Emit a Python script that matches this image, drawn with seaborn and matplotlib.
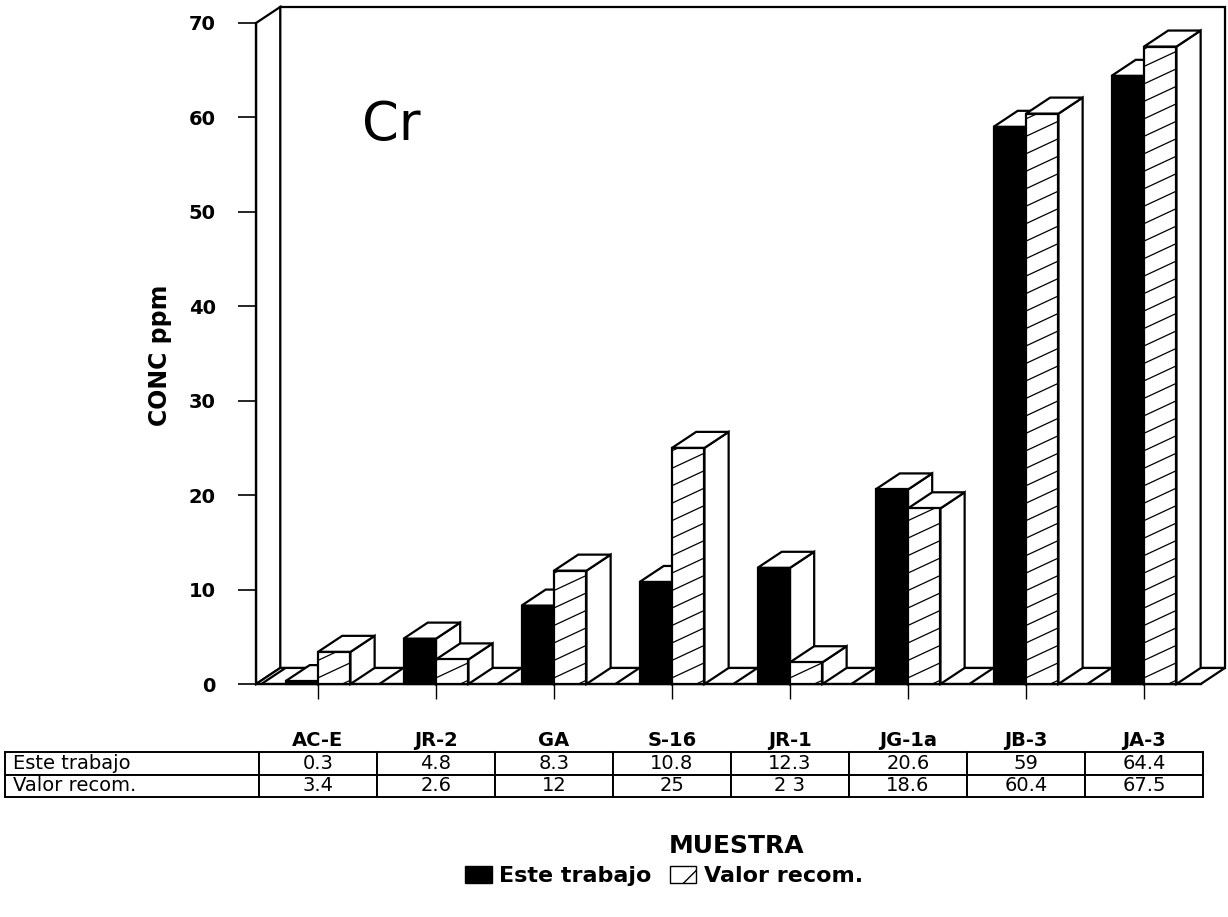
import numpy as np
import pandas as pd
import matplotlib
matplotlib.use("Agg")
import matplotlib.pyplot as plt
import seaborn as sns
from matplotlib.patches import Polygon, Patch, Rectangle
from matplotlib.collections import LineCollection

# Cr concentrations (ppm) per reference sample
muestras = ["AC-E", "JR-2", "GA", "S-16", "JR-1", "JG-1a", "JB-3", "JA-3"]
este_trabajo = [0.3, 4.8, 8.3, 10.8, 12.3, 20.6, 59, 64.4]
valor_recom = [3.4, 2.6, 12, 25, 2.3, 18.6, 60.4, 67.5]
este_txt = ["0.3", "4.8", "8.3", "10.8", "12.3", "20.6", "59", "64.4"]
valor_txt = ["3.4", "2.6", "12", "25", "2 3", "18.6", "60.4", "67.5"]
series = ["Este trabajo", "Valor recom."]
y_ticks = [0, 10, 20, 30, 40, 50, 60, 70]

df = pd.DataFrame({
    "muestra": muestras * 2,
    "serie": [series[0]] * len(muestras) + [series[1]] * len(muestras),
    "conc": este_trabajo + valor_recom,
})

sns.set_style("white")
plt.rcParams["font.family"] = ["DejaVu Sans"]
plt.rcParams.update({"text.color": "black", "axes.labelcolor": "black",
                     "xtick.color": "black", "ytick.color": "black"})

W, H = 1228, 917
fig = plt.figure(figsize=(W / 100, H / 100), dpi=100)
ax = fig.add_axes([0, 0, 1, 1])

sns.barplot(data=df, x="muestra", y="conc", hue="serie", order=muestras,
            hue_order=series, palette={series[0]: "black", series[1]: "white"},
            width=0.55, saturation=1, edgecolor="black", linewidth=1.5,
            errorbar=None, legend=False, ax=ax)

bars = sorted([p for p in ax.patches if isinstance(p, Rectangle)],
              key=lambda p: p.get_x())

# one category = 118 px, one ppm = 9.443 px; floor front edge at y = 684 px
ax.set_xlim(-318 / 118, (W - 318) / 118)
ax.set_ylim((684 - H) / 9.443, 684 / 9.443)

# oblique depth of the pseudo-3D box
DX, DY = 0.205, 1.7
x_front = -0.525
x_right = 7.686
top = max(y_ticks)
LW = 1.6

# left wall, back wall, floor
left_wall = Polygon([(x_front, 0), (x_front, top), (x_front + DX, top + DY),
                     (x_front + DX, DY)], closed=True, fc="white", ec="black",
                    lw=LW, zorder=0.5)
back_wall = Polygon([(x_front + DX, DY), (x_front + DX, top + DY),
                     (x_right, top + DY), (x_right, DY)], closed=True,
                    fc="white", ec="black", lw=LW, zorder=0.4)
floor = Polygon([(x_front, 0), (x_right - DX, 0), (x_right, DY),
                 (x_front + DX, DY)], closed=True, fc="white", ec="black",
                lw=LW, zorder=0.6)
for p in (left_wall, back_wall, floor):
    ax.add_patch(p)

for k, b in enumerate(bars):
    x0, w, h = b.get_x(), b.get_width(), b.get_height()
    z = 2 + k
    is_valor = b.get_facecolor()[0] > 0.5
    b.set_linewidth(LW)
    if not is_valor:
        # floor division line in front of each sample group
        ax.plot([x0 - DX, x0], [0, DY], color="black", lw=LW, zorder=1.5,
                solid_capstyle="butt")
    side = Polygon([(x0 + w, 0), (x0 + w + DX, DY), (x0 + w + DX, h + DY),
                    (x0 + w, h)], closed=True, fc="white", ec="black", lw=LW,
                   zorder=z + 0.2, joinstyle="miter")
    cap = Polygon([(x0, h), (x0 + DX, h + DY), (x0 + w + DX, h + DY),
                   (x0 + w, h)], closed=True, fc="white", ec="black", lw=LW,
                  zorder=z + 0.3, joinstyle="miter")
    ax.add_patch(side)
    ax.add_patch(cap)
    b.set_zorder(z + 0.5)
    if is_valor:
        rise, step = 1.6, 1.85
        segs = [[(x0, y0), (x0 + w, y0 + rise)]
                for y0 in np.arange(0.4 - rise, h, step)]
        lc = LineCollection(segs, colors="black", linewidths=0.9,
                            zorder=z + 0.6)
        ax.add_collection(lc)
        lc.set_clip_path(b)

# axes: front-left vertical axis and category ticks under the floor
for s in ("top", "right"):
    ax.spines[s].set_visible(False)
ax.spines["left"].set_position(("data", x_front))
ax.spines["left"].set_bounds(0, top)
ax.spines["left"].set_linewidth(LW)
ax.spines["left"].set_color("black")
ax.spines["bottom"].set_position(("data", 0))
ax.spines["bottom"].set_bounds(x_front, x_right - DX)
ax.spines["bottom"].set_linewidth(LW)
ax.spines["bottom"].set_color("black")

ax.set_yticks(y_ticks)
ax.set_yticklabels([str(t) for t in y_ticks])
ax.tick_params(axis="y", left=True, direction="out", length=13, width=1.2,
               pad=16, labelsize=14)
ax.set_xticks(range(len(muestras)))
ax.set_xticklabels(muestras)
ax.tick_params(axis="x", bottom=True, direction="out", length=11, width=1.0,
               pad=23, labelsize=14)
for lbl in ax.get_yticklabels() + ax.get_xticklabels():
    lbl.set_fontweight("bold")

ax.set_xlabel("")
ax.set_ylabel("CONC ppm", fontsize=17, fontweight="bold")
ax.yaxis.label.set_verticalalignment("center")
ax.yaxis.set_label_coords(160 / W, 1 - 355 / H)

ax.text(0.37, 57.6, "Cr", fontsize=38, ha="left", va="baseline")

# data table below the categories
cell_text = [[series[0]] + este_txt, [series[1]] + valor_txt]
tbl = ax.table(cellText=cell_text, cellLoc="center",
               colWidths=[254] + [118] * len(muestras),
               bbox=[5 / W, 1 - 797 / H, 1198 / W, 45 / H])
tbl.auto_set_font_size(False)
tbl.set_fontsize(14)
for (r, c), cell in tbl.get_celld().items():
    cell.set_linewidth(1.4)
    cell.set_edgecolor("black")
    if c == 0:
        cell._loc = "left"
        cell.get_text().set_horizontalalignment("left")
        cell.PAD = 0.03

fig.text(737 / W, 1 - 846 / H, "MUESTRA", ha="center", va="center",
         fontsize=18, fontweight="bold")

handles = [Patch(facecolor="black", edgecolor="black"),
           Patch(facecolor="white", edgecolor="black", hatch="/")]
fig.legend(handles, series, loc="center", bbox_to_anchor=(664 / W, 1 - 876 / H),
           ncol=2, frameon=False, prop={"weight": "bold", "size": 16},
           handlelength=1.2, handleheight=0.85, handletextpad=0.35,
           columnspacing=0.8)

fig.savefig("out.png", dpi=100)
